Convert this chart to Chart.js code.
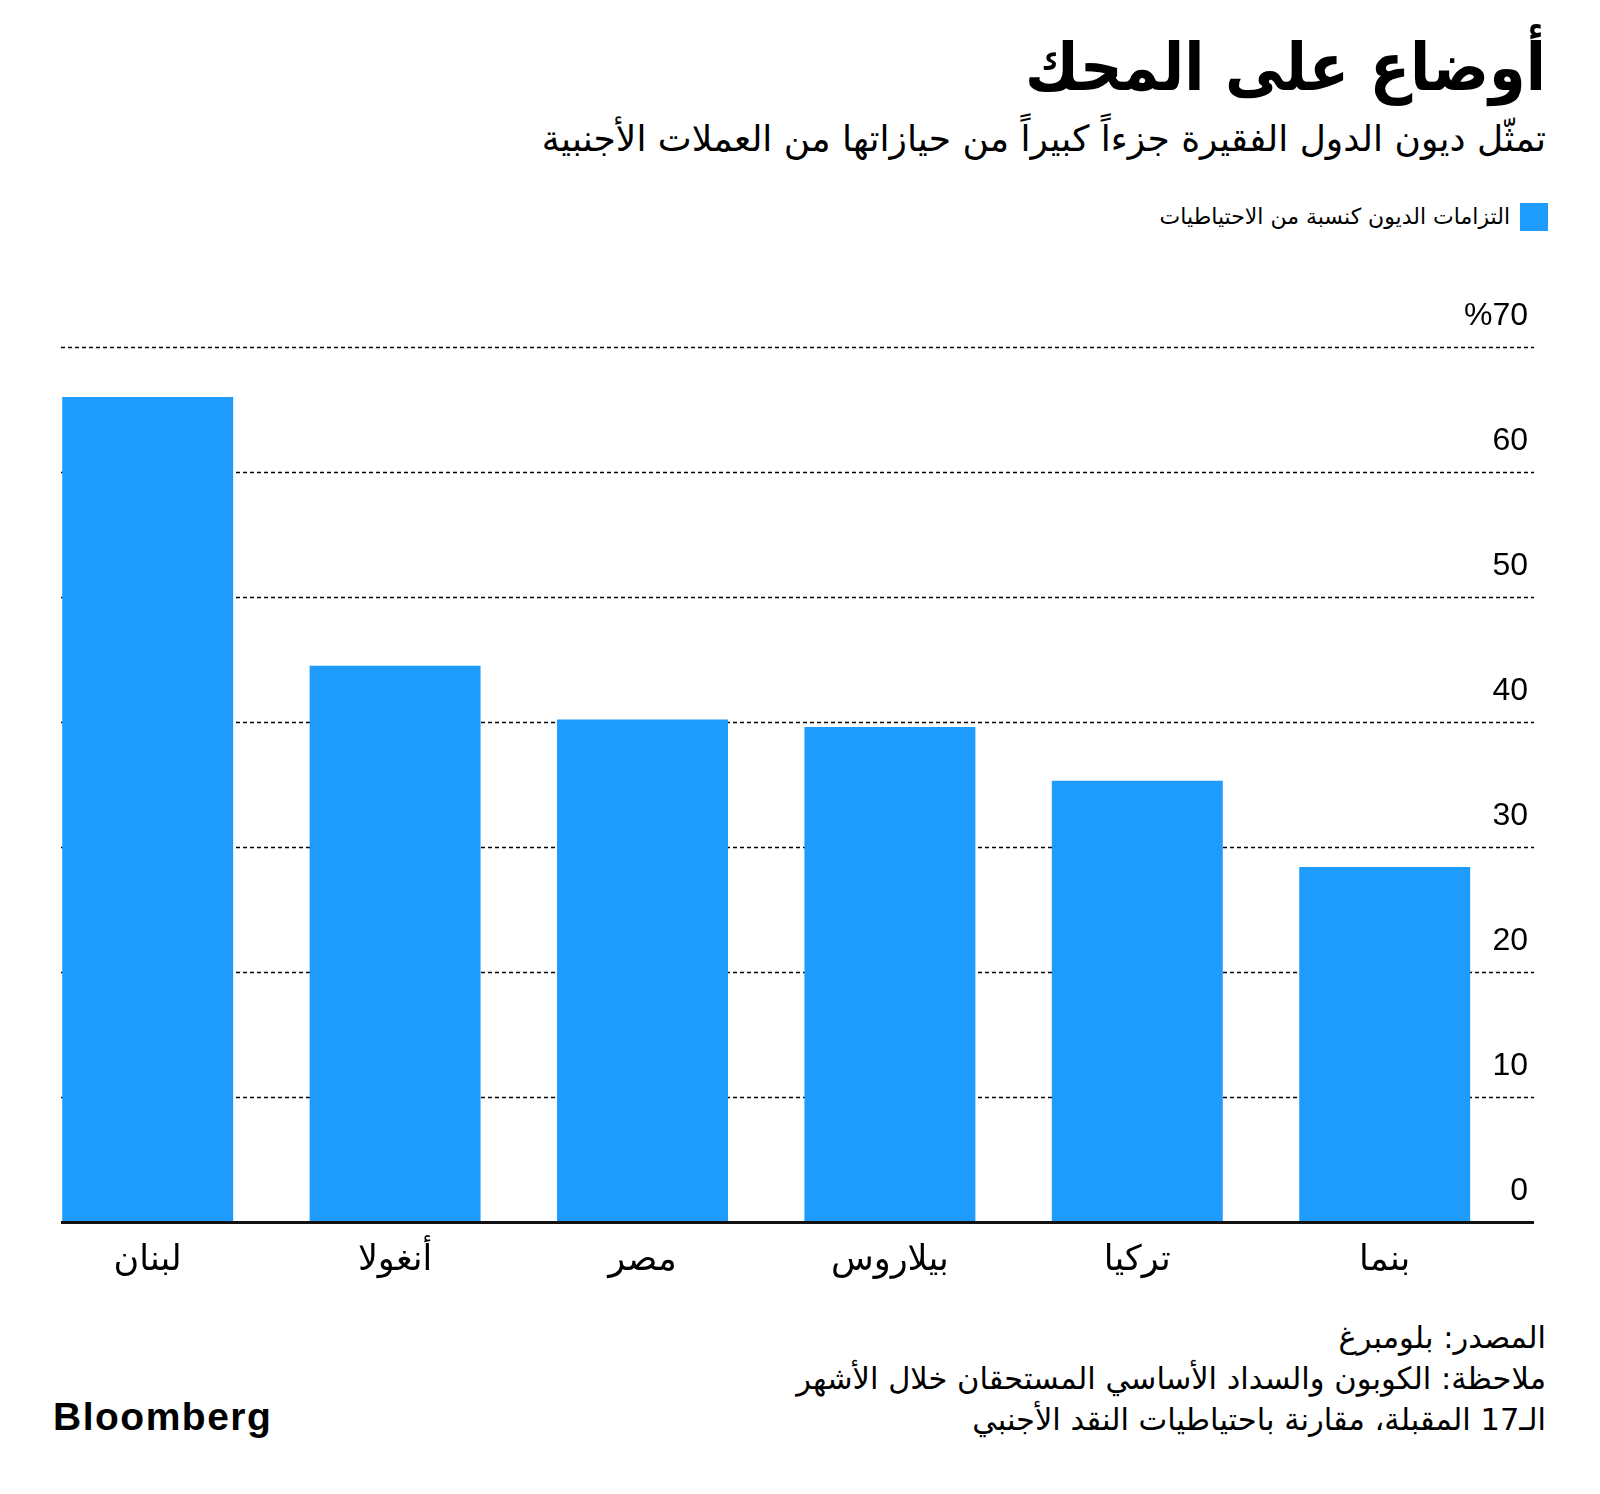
<!DOCTYPE html>
<html lang="ar">
<head>
<meta charset="utf-8">
<script src="https://cdn.jsdelivr.net/npm/chart.js@4.4.0/dist/chart.umd.min.js"></script>
<style>
  html, body { margin: 0; padding: 0; background: #fff; }
  body { width: 1600px; height: 1494px; position: relative; overflow: hidden; font-family: "DejaVu Sans", sans-serif; color: #000; }
  .rtl { position: absolute; right: 54px; direction: rtl; text-align: right; white-space: nowrap; }
  #title { top: 34px; font-size: 59px; font-weight: bold; line-height: 1; transform: scaleY(1.12); transform-origin: right top; }
  #subtitle { top: 119px; font-size: 36px; line-height: 1.1; }
  #legend { top: 203px; right: 52px; display: flex; align-items: center; gap: 10px; font-size: 22px; line-height: 28px; }
  #legend .sw { width: 28px; height: 28px; background: #1d9cfd; }
  #footer { top: 1317px; font-size: 30.5px; line-height: 41px; }
  #logo { position: absolute; left: 53px; top: 1397px; font-family: "Liberation Sans", Arial, sans-serif; font-weight: bold; font-size: 39px; letter-spacing: 1.5px; line-height: 1; }
  #chartBox { position: absolute; left: 0; top: 280px; width: 1600px; height: 1010px; }
</style>
</head>
<body>
<div id="title" class="rtl">أوضاع على المحك</div>
<div id="subtitle" class="rtl">تمثّل ديون الدول الفقيرة جزءاً كبيراً من حيازاتها من العملات الأجنبية</div>
<div id="legend" class="rtl"><span class="sw"></span><span>التزامات الديون كنسبة من الاحتياطيات</span></div>
<div id="chartBox"><canvas id="chart" width="1600" height="1010"></canvas></div>
<div id="footer" class="rtl">المصدر: بلومبرغ<br>ملاحظة: الكوبون والسداد الأساسي المستحقان خلال الأشهر<br>الـ17 المقبلة، مقارنة باحتياطيات النقد الأجنبي</div>
<div id="logo">Bloomberg</div>

<script>
// countries, left to right
const countries = ['لبنان', 'أنغولا', 'مصر', 'بيلاروس', 'تركيا', 'بنما'];
// debt obligations as % of reserves
const debtShare = [66.0, 44.5, 40.2, 39.6, 35.3, 28.4];
const tickValues = [0, 10, 20, 30, 40, 50, 60, 70];
const tickLabels = ['0', '10', '20', '30', '40', '50', '60', '%70'];

const barColor = '#1d9cfd';

// dotted grid, axis line and right-hand labels
const gridPlugin = {
    id: 'dottedGrid',
    beforeDatasetsDraw(chart) {
        const y = chart.scales.y;
        const ctx = chart.ctx;
        ctx.save();
        ctx.strokeStyle = '#000';
        ctx.lineWidth = 1.5;
        ctx.setLineDash([4, 3]);
        tickValues.forEach(v => {
            if (v === 0) return;
            const py = Math.round(y.getPixelForValue(v)) + 0.5;
            ctx.beginPath();
            ctx.moveTo(61, py);
            ctx.lineTo(1534, py);
            ctx.stroke();
        });
        ctx.restore();

        ctx.save();
        ctx.font = '32px "Liberation Sans", Arial, sans-serif';
        ctx.fillStyle = '#000';
        ctx.textAlign = 'right';
        ctx.textBaseline = 'middle';
        tickValues.forEach((v, i) => {
            ctx.fillText(tickLabels[i], 1528, y.getPixelForValue(v) - 31);
        });
        ctx.restore();
    },
    afterDatasetsDraw(chart) {
        const y = chart.scales.y;
        const ctx = chart.ctx;
        ctx.save();
        ctx.fillStyle = '#111';
        ctx.fillRect(61, Math.round(y.getPixelForValue(0)) - 1, 1534 - 61, 3);
        ctx.restore();
    }
};

function main() {
    const ctx = document.getElementById('chart').getContext('2d');
    new Chart(ctx, {
        type: 'bar',
        data: {
            labels: countries,
            datasets: [{
                label: 'التزامات الديون كنسبة من الاحتياطيات',
                data: debtShare,
                backgroundColor: barColor,
                borderWidth: 0,
                categoryPercentage: 1,
                barPercentage: 0.691,
            }],
        },
        options: {
            responsive: false,
            animation: false,
            devicePixelRatio: 1,
            layout: { padding: { top: 67, left: 24, right: 91.6, bottom: 0 } },
            plugins: {
                legend: { display: false },
                tooltip: { enabled: false },
            },
            scales: {
                x: {
                    grid: { display: false, drawTicks: false },
                    border: { display: false },
                    ticks: {
                        color: '#000',
                        font: { family: '"DejaVu Sans", sans-serif', size: 35 },
                        padding: 18,
                        maxRotation: 0,
                    },
                    afterFit(scale) { scale.height = 68; },
                },
                y: {
                    display: false,
                    min: 0,
                    max: 70,
                },
            },
        },
        plugins: [gridPlugin],
    });
}

document.addEventListener('DOMContentLoaded', () => {
    main();
});
</script>
</body>
</html>
